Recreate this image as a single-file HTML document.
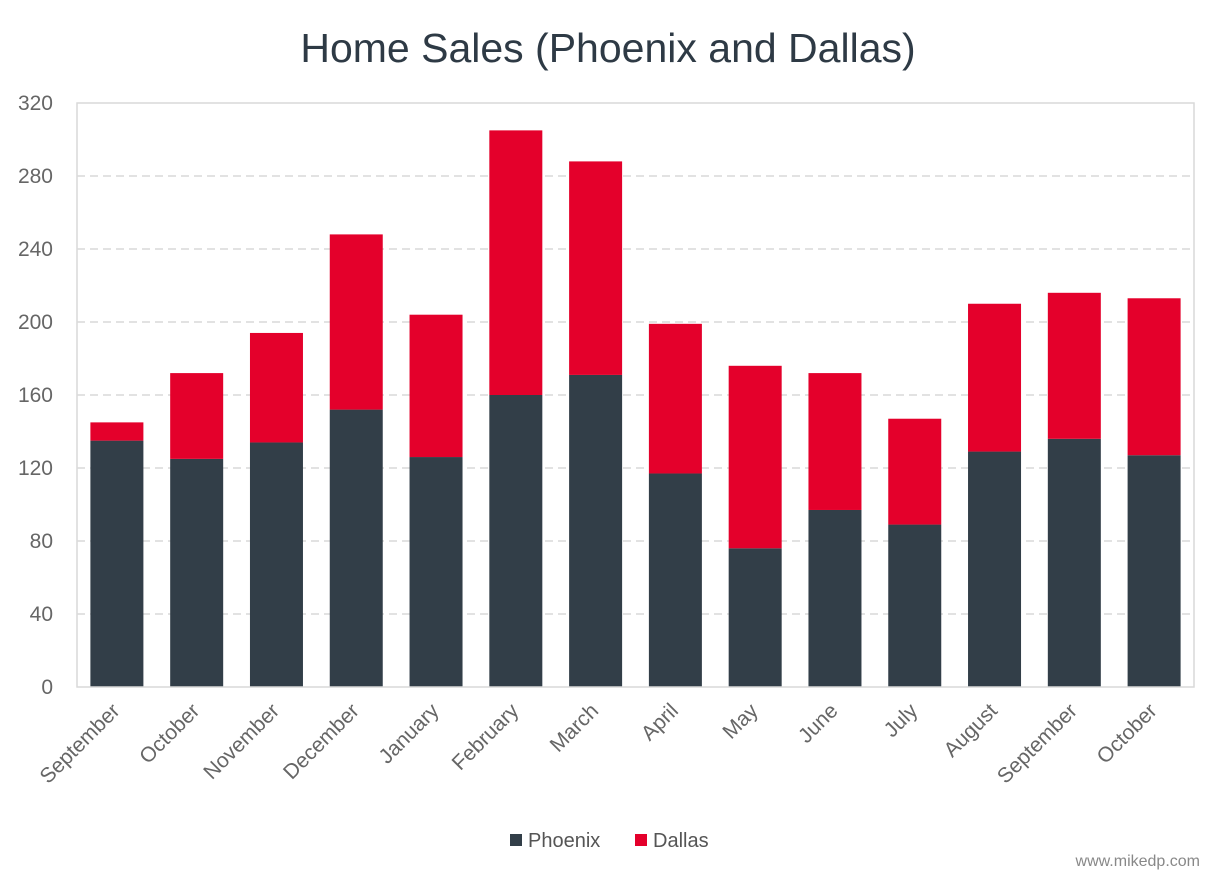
<!DOCTYPE html>
<html><head><meta charset="utf-8"><style>
body{margin:0;background:#fff;}
svg{font-family:"Liberation Sans",sans-serif;}
</style></head><body>
<svg id="chart" width="1217" height="878">
<text x="608" y="62" text-anchor="middle" font-size="41" fill="#2e3a45">Home Sales (Phoenix and Dallas)</text>
<g id="grid"></g><g id="bars"></g><g id="xlabels"></g><g id="ylabels"></g>
<rect x="77" y="103" width="1117" height="584" fill="none" stroke="#d9d9d9" stroke-width="1.5"/>
<g>
<rect x="510" y="834" width="12" height="12" fill="#323e48"/>
<text x="528" y="847" font-size="20" fill="#555">Phoenix</text>
<rect x="635" y="834" width="12" height="12" fill="#e4002b"/>
<text x="653" y="847" font-size="20" fill="#555">Dallas</text>
</g>
<text x="1200" y="866" text-anchor="end" font-size="16" fill="#888">www.mikedp.com</text>
</svg>
<script>
const categories=["September","October","November","December","January","February","March","April","May","June","July","August","September","October"];
const phoenix=[135,125,134,152,126,160,171,117,76,97,89,129,136,127];
const dallas=[10,47,60,96,78,145,117,82,100,75,58,81,80,86];
const yTicks=[0,40,80,120,160,200,240,280,320];
const NS="http://www.w3.org/2000/svg";
const x0=77,x1=1194,yTop=103,yBot=687,yMax=320;
const y=v=>yBot-(v/yMax)*(yBot-yTop);
const step=(x1-x0)/categories.length;
const bw=53;
const xc=i=>x0+step*(i+0.5);
function mk(t,a,p){const e=document.createElementNS(NS,t);for(const k in a)e.setAttribute(k,a[k]);p.appendChild(e);return e;}
const grid=document.getElementById('grid'),yl=document.getElementById('ylabels');
yTicks.forEach(v=>{
 if(v>0&&v<yMax){const l=mk('line',{x1:x0,x2:x1,y1:y(v),y2:y(v),stroke:'#d9d9d9','stroke-width':1.5,'stroke-dasharray':'8,5'},grid);
 
 }
 const t=mk('text',{x:53,y:y(v)+7,'text-anchor':'end','font-size':21,fill:'#666'},yl);t.textContent=v;
 
 
});
const bars=document.getElementById('bars'),xl=document.getElementById('xlabels');
categories.forEach((c,i)=>{
 const p=mk('rect',{x:xc(i)-bw/2,y:y(phoenix[i]),width:bw,height:yBot-y(phoenix[i]),fill:'#323e48'},bars);
 
 
 const d=mk('rect',{x:xc(i)-bw/2,y:y(phoenix[i]+dallas[i]),width:bw,height:y(phoenix[i])-y(phoenix[i]+dallas[i]),fill:'#e4002b'},bars);
 
 
 const tx=xc(i)+4,ty=712;
 const t=mk('text',{x:tx,y:ty,'text-anchor':'end','font-size':21,fill:'#666',transform:`rotate(-45 ${tx} ${ty})`},xl);t.textContent=c;
 
 
});
</script>
</body></html>
